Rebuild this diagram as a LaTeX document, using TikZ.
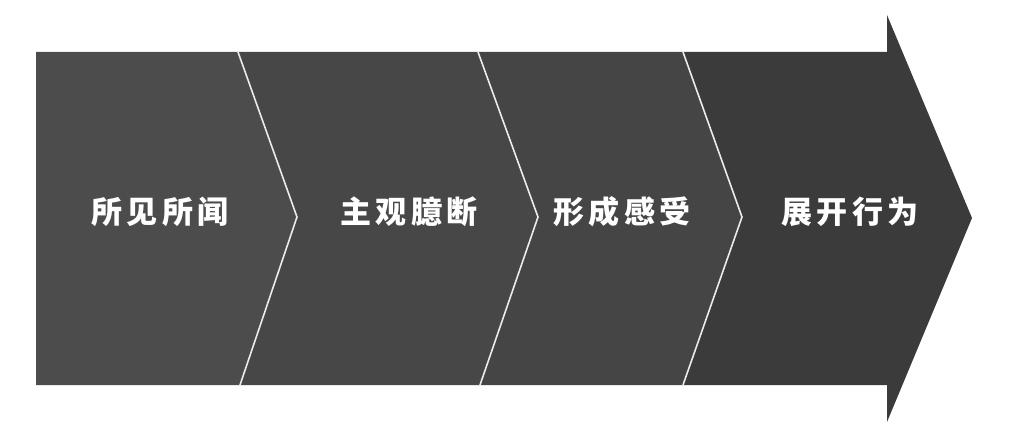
\documentclass[tikz,border=0pt]{standalone}
\usepackage{fontspec}
\newfontfamily\cjk[LetterSpace=13]{Noto Sans CJK SC}
\usepackage{tikz}
\usetikzlibrary{calc}
\tikzset{
fase node/.style={text=white,font=\cjk\bfseries\fontsize{31}{33}\selectfont,inner sep=0pt},
taglio/.style={draw=white!92!black,line width=1.6pt,line join=miter}}

\begin{document}
\begin{tikzpicture}[x=1pt,y=1pt]

\useasboundingbox (0,0) rectangle (1013,445);

\coordinate (t1) at (238,393);
\coordinate (m1) at (297,228);
\coordinate (b1) at (240,60);
\coordinate (t2) at (478,393);
\coordinate (m2) at (538,228);
\coordinate (b2) at (480,60);
\coordinate (t3) at (683,393);
\coordinate (m3) at (742,228);
\coordinate (b3) at (683,60);

\fill[black!70] (36,393) -- (t1) -- (m1) -- (b1) -- (36,60) -- cycle;
\fill[black!72] (t1) -- (t2) -- (m2) -- (b2) -- (b1) -- (m1) -- cycle;
\fill[black!73] (t2) -- (t3) -- (m3) -- (b3) -- (b2) -- (m2) -- cycle;
\fill[black!77] (t3) -- (887,393) -- (887,430) -- (972,227) -- (887,23) -- (887,60) -- (b3) -- (m3) -- cycle;

\draw[taglio] (t1) -- (m1) -- (b1);
\draw[taglio] (t2) -- (m2) -- (b2);
\draw[taglio] (t3) -- (m3) -- (b3);

\node[fase node] (f1) at (160,233) {所见所闻};
\node[fase node] (f2) at (409,233) {主观臆断};
\node[fase node] (f3) at (622,233) {形成感受};
\node[fase node] (f4) at (850,233) {展开行为};

\end{tikzpicture}
\end{document}
